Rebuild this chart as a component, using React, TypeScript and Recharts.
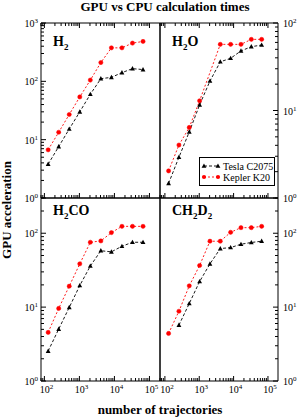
import { LineChart, Line, XAxis, YAxis } from "recharts";

const W = 302;
const H = 419;
const FONT = "'Liberation Serif', 'DejaVu Serif', serif";

// number of trajectories (x)
const trajectories = [128, 256, 512, 1024, 2048, 4096, 8192, 16384, 32768, 65536];

// GPU acceleration per molecule
const h2Tesla = [3.8, 7.6, 15.2, 30, 60, 111, 117, 141, 165, 159];
const h2Kepler = [6.7, 13.4, 27, 54, 105, 210, 375, 375, 452, 483];
const h2oTesla = [1.47, 2.92, 5.7, 11.6, 21.7, 36, 39.5, 48, 53.6, 56];
const h2oKepler = [2.04, 4.03, 6.4, 12.9, null, 57, 57, 57, 65, 65];
const h2coTesla = [2.54, 5.04, 9.9, 19.6, 36, 58, 56, 66.7, 75.5, 75.5];
const h2coKepler = [4.55, 9.6, 19.2, 38.5, 75.5, 78.7, 102, 124, 124, 124];
const ch2d2Tesla = [null, 5.7, 11.2, 22.2, 38.5, 62, 64, 71, 75, 78];
const ch2d2Kepler = [4.4, 8.8, 19.4, 36.6, 78, 78, 103, 119, 119, 124];

const seriesNames = ["Tesla C2075", "Kepler K20"];
const seriesColors = ["#000000", "#ff0000"];
const seriesDash = ["3 2", "2 2"];

const xMajor = [100, 1000, 10000, 100000];
const yMajorTop = [1, 10, 100, 1000];
const yMajorRight = [1, 10, 100];
const yMajorBottom = [1, 10, 100];

function withMinors(majors: number[], lo: number, hi: number) {
  const out: number[] = [];
  const first = Math.floor(Math.log10(lo));
  const last = Math.ceil(Math.log10(hi));
  for (let e = first; e <= last; e++) {
    for (let m = 1; m <= 9; m++) {
      const v = m * Math.pow(10, e);
      if (v >= lo * 0.999 && v <= hi * 1.001) out.push(v);
    }
  }
  return Array.from(new Set([...out, ...majors.filter((v) => v >= lo && v <= hi)])).sort((a, b) => a - b);
}

function buildRows(tesla: (number | null)[], kepler: (number | null)[]) {
  return trajectories.map((n, i) => ({ n, tesla: tesla[i], kepler: kepler[i] }));
}

function Pow10({ v }: { v: number }) {
  const e = Math.round(Math.log10(v));
  return (
    <>
      10
      <tspan dy={-4} fontSize={7}>{e}</tspan>
    </>
  );
}

function makeTick(side: string, majors: number[], labels: boolean) {
  return (props: any) => {
    const { x, y, payload } = props;
    const v = payload.value;
    const major = majors.some((m) => Math.abs(m - v) < 1e-9 * m);
    const len = major ? 5 : 3;
    let line = null;
    if (side === "bottom") line = <line x1={x} x2={x} y1={y} y2={y - len} stroke="#000" />;
    if (side === "top") line = <line x1={x} x2={x} y1={y} y2={y + len} stroke="#000" />;
    if (side === "left") line = <line x1={x} x2={x + len} y1={y} y2={y} stroke="#000" />;
    if (side === "right") line = <line x1={x} x2={x - len} y1={y} y2={y} stroke="#000" />;
    let label = null;
    if (labels && major) {
      if (side === "bottom")
        label = (
          <text x={x + 2} y={y + 12} textAnchor="middle" fontSize={10} fontFamily={FONT} fill="#000">
            <Pow10 v={v} />
          </text>
        );
      if (side === "left")
        label = (
          <text x={x - 3} y={y + 4} textAnchor="end" fontSize={10} fontFamily={FONT} fill="#000">
            <Pow10 v={v} />
          </text>
        );
      if (side === "right")
        label = (
          <text x={x + 5} y={y + 4} textAnchor="start" fontSize={10} fontFamily={FONT} fill="#000">
            <Pow10 v={v} />
          </text>
        );
    }
    return (
      <g key={`t-${side}-${v}`}>
        {line}
        {label}
      </g>
    );
  };
}

const Triangle = (props: any) => {
  const { cx, cy, index } = props;
  if (cx == null || cy == null || props.value == null) return <g key={`tri-${index}`} />;
  return (
    <polygon
      key={`tri-${index}`}
      points={`${cx},${cy - 2.6} ${cx - 2.4},${cy + 1.8} ${cx + 2.4},${cy + 1.8}`}
      fill="#000"
    />
  );
};

type Panel = {
  tesla: (number | null)[];
  kepler: (number | null)[];
  rect: [number, number, number, number];
  xDomain: [number, number];
  yDomain: [number, number];
  yMajor: number[];
  ySide: "left" | "right";
  isBottom: boolean;
};

const panels: Panel[] = [
  { tesla: h2Tesla, kepler: h2Kepler, rect: [41, 23, 160, 198], xDomain: [80, 200000], yDomain: [1, 1000], yMajor: yMajorTop, ySide: "left", isBottom: false },
  { tesla: h2oTesla, kepler: h2oKepler, rect: [160, 23, 278, 198], xDomain: [72, 196000], yDomain: [1, 100], yMajor: yMajorRight, ySide: "right", isBottom: false },
  { tesla: h2coTesla, kepler: h2coKepler, rect: [41, 198, 160, 381], xDomain: [80, 200000], yDomain: [1, 300], yMajor: yMajorBottom, ySide: "left", isBottom: true },
  { tesla: ch2d2Tesla, kepler: ch2d2Kepler, rect: [160, 198, 278, 381], xDomain: [72, 196000], yDomain: [1, 300], yMajor: yMajorBottom, ySide: "right", isBottom: true },
];

function PanelChart({ p }: { p: Panel }) {
  const [l, t, r, b] = p.rect;
  const xTicks = withMinors(xMajor, p.xDomain[0], p.xDomain[1]);
  const yTicks = withMinors(p.yMajor, p.yDomain[0], p.yDomain[1]);
  const axis = { stroke: "#000", strokeWidth: 1 };
  return (
    <div style={{ position: "absolute", left: 0, top: 0 }}>
      <LineChart
        width={W}
        height={H}
        data={buildRows(p.tesla, p.kepler)}
        margin={{ top: t - 1, left: l - 1, right: W - r - 1, bottom: H - b - 1 }}
      >
        <XAxis
          xAxisId="b"
          dataKey="n"
          type="number"
          scale="log"
          domain={p.xDomain}
          allowDataOverflow
          ticks={xTicks}
          interval={0}
          height={1}
          tickSize={0}
          tickMargin={0}
          tickLine={false}
          axisLine={axis}
          tick={makeTick("bottom", xMajor, p.isBottom)}
        />
        <XAxis
          xAxisId="t"
          orientation="top"
          dataKey="n"
          type="number"
          scale="log"
          domain={p.xDomain}
          allowDataOverflow
          ticks={xTicks}
          interval={0}
          height={1}
          tickSize={0}
          tickMargin={0}
          tickLine={false}
          axisLine={axis}
          tick={p.isBottom ? false : makeTick("top", xMajor, false)}
        />
        <YAxis
          yAxisId="l"
          type="number"
          scale="log"
          domain={p.yDomain}
          allowDataOverflow
          ticks={yTicks}
          interval={0}
          width={1}
          tickSize={0}
          tickMargin={0}
          tickLine={false}
          axisLine={axis}
          tick={p.ySide === "left" ? makeTick("left", p.yMajor, true) : false}
        />
        <YAxis
          yAxisId="r"
          orientation="right"
          type="number"
          scale="log"
          domain={p.yDomain}
          allowDataOverflow
          ticks={yTicks}
          interval={0}
          width={1}
          tickSize={0}
          tickMargin={0}
          tickLine={false}
          axisLine={axis}
          tick={p.ySide === "right" ? makeTick("right", p.yMajor, true) : false}
        />
        <Line
          xAxisId="b"
          yAxisId="l"
          type="linear"
          dataKey="tesla"
          name={seriesNames[0]}
          stroke={seriesColors[0]}
          strokeWidth={0.9}
          strokeDasharray={seriesDash[0]}
          connectNulls
          dot={Triangle}
          isAnimationActive={false}
        />
        <Line
          xAxisId="b"
          yAxisId="l"
          type="linear"
          dataKey="kepler"
          name={seriesNames[1]}
          stroke={seriesColors[1]}
          strokeWidth={0.9}
          strokeDasharray={seriesDash[1]}
          connectNulls
          dot={{ r: 2.1, fill: seriesColors[1], stroke: seriesColors[1], strokeWidth: 0.5, strokeDasharray: "" }}
          isAnimationActive={false}
        />
      </LineChart>
    </div>
  );
}

function Chem({ x, y, parts }: { x: number; y: number; parts: [string, boolean][] }) {
  return (
    <text x={x} y={y} fontSize={14} fontWeight="bold" fontFamily={FONT} fill="#000">
      {parts.map(([s, sub], i) =>
        sub ? (
          <tspan key={i} fontSize={9} dy={4}>{s}</tspan>
        ) : (
          <tspan key={i} dy={i > 0 && parts[i - 1][1] ? -4 : 0}>{s}</tspan>
        )
      )}
    </text>
  );
}

function Overlay() {
  return (
    <svg width={W} height={H} style={{ position: "absolute", left: 0, top: 0, pointerEvents: "none" }}>
      <text x={165} y={11} textAnchor="middle" fontSize={13} fontWeight="bold" fontFamily={FONT}>
        GPU vs CPU calculation times
      </text>
      <text
        x={0}
        y={0}
        transform="translate(11,210) rotate(-90)"
        textAnchor="middle"
        fontSize={13}
        fontWeight="bold"
        fontFamily={FONT}
      >
        GPU acceleration
      </text>
      <text x={160} y={414} textAnchor="middle" fontSize={13} fontWeight="bold" fontFamily={FONT}>
        number of trajectories
      </text>
      <Chem x={53} y={46} parts={[["H", false], ["2", true]]} />
      <Chem x={172} y={46} parts={[["H", false], ["2", true], ["O", false]]} />
      <Chem x={53} y={215} parts={[["H", false], ["2", true], ["CO", false]]} />
      <Chem x={172} y={215} parts={[["CH", false], ["2", true], ["D", false], ["2", true]]} />
      <g>
        <rect x={199.5} y={157.5} width={75} height={28} fill="#fff" stroke="#000" strokeWidth={1} />
        {seriesNames.map((name, i) => {
          const y = 166 + i * 11;
          return (
            <g key={name}>
              <line x1={204} x2={218} y1={y} y2={y} stroke={seriesColors[i]} strokeWidth={0.9} strokeDasharray={seriesDash[i]} />
              {i === 0 ? (
                <>
                  <polygon points={`204,${y - 2.6} ${201.6},${y + 1.8} ${206.4},${y + 1.8}`} fill="#000" />
                  <polygon points={`218,${y - 2.6} ${215.6},${y + 1.8} ${220.4},${y + 1.8}`} fill="#000" />
                </>
              ) : (
                <>
                  <circle cx={204} cy={y} r={2.1} fill={seriesColors[i]} />
                  <circle cx={218} cy={y} r={2.1} fill={seriesColors[i]} />
                </>
              )}
              <text x={223} y={y + 3.5} fontSize={10} fontFamily={FONT}>
                {name}
              </text>
            </g>
          );
        })}
      </g>
    </svg>
  );
}

export default function App() {
  return (
    <div style={{ position: "absolute", left: 0, top: 0, width: W, height: H, background: "#fff" }}>
      {panels.map((p, i) => (
        <PanelChart key={i} p={p} />
      ))}
      <Overlay />
    </div>
  );
}
